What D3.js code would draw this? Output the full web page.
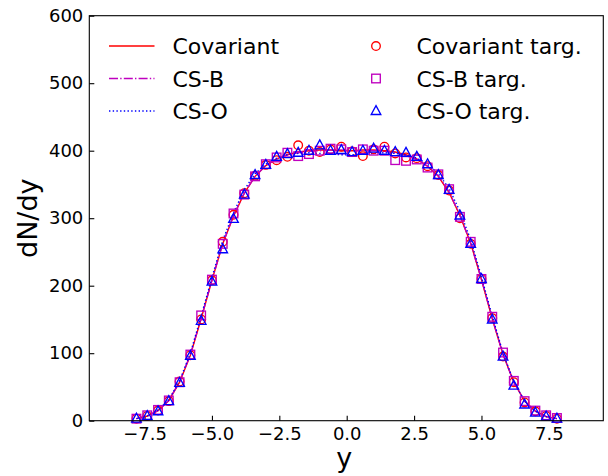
<!DOCTYPE html>
<html>
<head>
<meta charset="utf-8">
<script src="https://cdn.jsdelivr.net/npm/d3@7"></script>
<style>
  html, body { margin: 0; padding: 0; background: #fff; }
  svg { display: block; font-family: "DejaVu Sans", sans-serif; }
</style>
</head>
<body>
<svg id="chart" width="608" height="476"></svg>
<script>
// ---- data ----
const yBins = [-7.8,-7.4,-7.0,-6.6,-6.2,-5.8,-5.4,-5.0,-4.6,-4.2,-3.8,-3.4,-3.0,-2.6,-2.2,-1.8,-1.4,-1.0,-0.6,-0.2,
               0.2,0.6,1.0,1.4,1.8,2.2,2.6,3.0,3.4,3.8,4.2,4.6,5.0,5.4,5.8,6.2,6.6,7.0,7.4,7.8];

const covariantLine = [3,7,15,30,57,97,151,208,262,303,337,362,378,388,394,398,400,401,401,400,
                       400,401,401,400,398,394,388,377,362,338,304,263,209,151,98,57,29,14,6,3];
const csbLine       = [3,7,15,30,58,98,152,208,262,304,337,362,378,388,394,397,399,400,401,401,
                       400,400,400,399,397,393,387,377,363,339,304,263,209,152,98,57,29,14,6,3];
const csoLine       = [3,7,16,31,59,100,155,212,267,308,342,366,380,389,394,396,397,396,395,394,
                       394,395,396,397,396,394,389,380,366,344,310,268,213,155,100,58,29,14,6,3];

const covariantTarg = [3,7,15,29,58,97,150,208,265,305,337,363,379,386,391,408,400,398,402,406,
                       399,392,402,406,396,390,389,377,364,341,300,262,210,152,95,57,27,14,7,3];
const csbTarg       = [3,8,16,30,57,98,156,209,262,307,335,362,380,390,397,392,395,400,403,402,
                       398,402,400,400,386,385,387,375,365,343,302,265,210,154,101,59,29,15,8,4];
const csoTarg       = [3,7,14,29,56,96,148,206,254,299,335,364,379,391,395,397,400,408,400,401,
                       398,400,403,400,398,397,391,380,364,342,304,262,210,150,95,52,24,12,6,3];

const xTicks = [-7.5,-5.0,-2.5,0.0,2.5,5.0,7.5];
const yTicks = [0,100,200,300,400,500,600];

const lineLabels   = ["Covariant","CS-B","CS-O"];
const markerLabels = ["Covariant targ.","CS-B targ.","CS-O targ."];

// ---- layout ----
const svg = d3.select("#chart");
const L = 89.3, R = 603.3, T = 15.7, B = 420.7;
const x = d3.scaleLinear().domain([-9.55, 9.52]).range([L, R]);
const y = d3.scaleLinear().domain([0, 600]).range([B, T]);

const RED = "#ff0000", MAG = "#bf00bf", BLUE = "#0000ff";

// axes
const fmtX = v => (v < 0 ? "\u2212" : "") + Math.abs(v).toFixed(1);
const xAxis = d3.axisBottom(x).tickValues(xTicks).tickFormat(fmtX)
  .tickSizeInner(-5).tickSizeOuter(0).tickPadding(7);
const yAxis = d3.axisLeft(y).tickValues(yTicks).tickFormat(d3.format("d"))
  .tickSizeInner(-5).tickSizeOuter(0).tickPadding(6);

const gx = svg.append("g").attr("transform", `translate(0,${B})`).call(xAxis);
const gy = svg.append("g").attr("transform", `translate(${L},0)`).call(yAxis);
[gx, gy].forEach(g => {
  g.select(".domain").remove();
  g.selectAll("text").attr("font-size", 18).attr("fill", "#000").attr("font-family", "DejaVu Sans");
  g.selectAll("line").attr("stroke", "#000").attr("stroke-width", 1.1);
});

// lines
const lineGen = vals => d3.line().x((d, i) => x(yBins[i])).y(d => y(d))(vals);
const gl = svg.append("g");
gl.append("path").attr("d", lineGen(covariantLine)).attr("fill", "none")
  .attr("stroke", RED).attr("stroke-width", 1.4);
gl.append("path").attr("d", lineGen(csbLine)).attr("fill", "none")
  .attr("stroke", MAG).attr("stroke-width", 1.4).attr("stroke-dasharray", "9,2.2,1.4,2.2");
gl.append("path").attr("d", lineGen(csoLine)).attr("fill", "none")
  .attr("stroke", BLUE).attr("stroke-width", 1.4).attr("stroke-dasharray", "1.4,2.3");

// markers
const MSW = 1.35;
const circ = (g, cx, cy) => g.append("circle").attr("cx", cx).attr("cy", cy).attr("r", 4.3)
  .attr("fill", "none").attr("stroke", RED).attr("stroke-width", MSW);
const sq = (g, cx, cy) => g.append("rect").attr("x", cx - 4.3).attr("y", cy - 4.3)
  .attr("width", 8.6).attr("height", 8.6)
  .attr("fill", "none").attr("stroke", MAG).attr("stroke-width", MSW);
const tri = (g, cx, cy) => g.append("path")
  .attr("d", `M${cx},${cy - 5.4}L${cx + 4.8},${cy + 3.5}L${cx - 4.8},${cy + 3.5}Z`)
  .attr("fill", "none").attr("stroke", BLUE).attr("stroke-width", MSW);

const gm = svg.append("g");
covariantTarg.forEach((v, i) => circ(gm, x(yBins[i]), y(v)));
csbTarg.forEach((v, i) => sq(gm, x(yBins[i]), y(v)));
csoTarg.forEach((v, i) => tri(gm, x(yBins[i]), y(v)));

// frame
svg.append("rect").attr("x", L).attr("y", T).attr("width", R - L).attr("height", B - T)
  .attr("fill", "none").attr("stroke", "#000").attr("stroke-width", 1.1);

// legend
const lg = svg.append("g").attr("font-size", 22).attr("fill", "#000");
const rowsBase = [54, 86.5, 119];
const lineStyles = [
  {c: RED, d: null}, {c: MAG, d: "9,2.2,1.4,2.2"}, {c: BLUE, d: "1.4,2.3"}
];
lineLabels.forEach((t, i) => {
  const yy = rowsBase[i] - 8;
  const ln = lg.append("line").attr("x1", 109).attr("x2", 154.5).attr("y1", yy).attr("y2", yy)
    .attr("stroke", lineStyles[i].c).attr("stroke-width", 1.4);
  if (lineStyles[i].d) ln.attr("stroke-dasharray", lineStyles[i].d);
  lg.append("text").attr("x", 172.5).attr("y", rowsBase[i]).text(t);
});
const mk = [circ, sq, tri];
markerLabels.forEach((t, i) => {
  mk[i](lg, 376, rowsBase[i] - 8);
  lg.append("text").attr("x", 416.5).attr("y", rowsBase[i]).text(t);
});

// axis labels
svg.append("text").attr("x", (L + R) / 2 - 2).attr("y", 467).attr("text-anchor", "middle")
  .attr("font-size", 27).text("y");
svg.append("text").attr("transform", `translate(37,${(T + B) / 2}) rotate(-90)`)
  .attr("text-anchor", "middle").attr("font-size", 27).text("dN/dy");
</script>
</body>
</html>
